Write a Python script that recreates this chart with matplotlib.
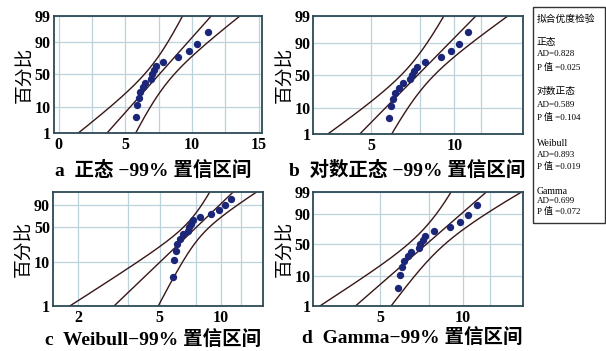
import numpy as np
import matplotlib
matplotlib.use('Agg')
import matplotlib.pyplot as plt
from matplotlib.ticker import FixedLocator, FixedFormatter, NullFormatter
from matplotlib.patches import Rectangle
from statistics import NormalDist

X = [5.8, 5.9, 6.0, 6.1, 6.3, 6.5, 6.9, 7.0, 7.15, 7.3, 7.85, 8.95, 9.75, 10.4, 11.2]
PCT = [4.5, 11.0, 17.5, 24.0, 30.5, 37.0, 43.5, 50.0, 56.5, 63.0, 69.5, 76.0, 82.5, 89.0, 95.5]

DIST_NAMES = ['正态', '对数正态', 'Weibull', 'Gamma']
AD = ['0.828', '0.589', '0.893', '0.699']
PVAL = ['0.025', '0.104', '0.019', '0.072']
CAPTIONS = ['a  正态 −99% 置信区间', 'b  对数正态 −99% 置信区间',
            'c  Weibull−99% 置信区间', 'd  Gamma−99% 置信区间']
Y_TICKS = [1, 10, 50, 90, 99]
Y_TICKS_C = [1, 10, 50, 90]

SERIF_CJK = ['Liberation Serif', 'Noto Sans CJK SC']
PT_COLOR = '#1c2679'
LN_COLOR = '#3a1616'
GRID_COLOR = '#bdd3dc'
SPINE_COLOR = '#2d4a56'

nd = NormalDist()
_ppf = np.vectorize(lambda p: nd.inv_cdf(p) if 0 < p < 1 else np.nan, otypes=[float])
_cdf = np.vectorize(nd.cdf, otypes=[float])

N = len(X)
Z99 = nd.inv_cdf(0.995)
xs = np.array(X)
lx = np.log(xs)
K = xs.mean() ** 2 / xs.var(ddof=1)   # gamma shape (moments)


def clip_p(p):
    return np.clip(np.asarray(p, float) / 100.0, 1e-9, 1 - 1e-9)


def norm_fwd(p):
    return _ppf(clip_p(p))


def norm_inv(y):
    return 100.0 * _cdf(np.asarray(y, float))


def weib_fwd(p):
    return np.log(-np.log(1 - clip_p(p)))


def weib_inv(y):
    return 100.0 * (1 - np.exp(-np.exp(np.asarray(y, float))))


C_WH = 1 - 1 / (9 * K)
A_WH = 1 / (3 * np.sqrt(K))


def gam_fwd(p):
    z = _ppf(clip_p(p))
    return np.log(K * np.clip(C_WH + A_WH * z, 1e-6, None) ** 3)


def gam_inv(y):
    t = (np.exp(np.asarray(y, float)) / K) ** (1 / 3)
    return 100.0 * _cdf((t - C_WH) / A_WH)


def weibull_mle():
    def g(beta):
        w = xs ** beta
        return (w * lx).sum() / w.sum() - 1 / beta - lx.mean()
    lo, hi = 0.5, 60.0
    for _ in range(80):
        mid = (lo + hi) / 2
        if g(mid) > 0:
            hi = mid
        else:
            lo = mid
    beta = (lo + hi) / 2
    eta = np.mean(xs ** beta) ** (1 / beta)
    return np.log(eta), 1 / beta


# location/scale on the transformed x axis
fits = [
    (xs.mean(), xs.std()),
    (lx.mean(), lx.std()),
    weibull_mle(),
    (np.log(xs.mean() / K), 1.0),
]

panels = [
    dict(fwd=norm_fwd, inv=norm_inv, logx=False, xlim=(-0.375, 15.25),
         xt=[0, 5, 10, 15], xm=[2.5, 7.5, 12.5], yt=Y_TICKS),
    dict(fwd=norm_fwd, inv=norm_inv, logx=True, xlim=(3.09, 17.75),
         xt=[5, 10], xm=[7.5, 12.5], yt=Y_TICKS),
    dict(fwd=weib_fwd, inv=weib_inv, logx=True, xlim=(1.5, 16.1),
         xt=[2, 5, 10], xm=[3.5, 7.5, 12.5], yt=Y_TICKS_C),
    dict(fwd=gam_fwd, inv=gam_inv, logx=True, xlim=(2.87, 16.5),
         xt=[5, 10], xm=[7.5, 12.5], yt=Y_TICKS),
]
rects = [
    [0.0883, 0.6211, 0.3440, 0.3333],
    [0.5170, 0.6180, 0.3465, 0.3362],
    [0.0870, 0.1290, 0.3475, 0.3248],
    [0.5170, 0.1290, 0.3465, 0.3248],
]
cap_pos = [(153, 170), (407, 170), (153, 340), (412, 338)]

fig = plt.figure(figsize=(6.06, 3.51), dpi=100)
pp = np.linspace(0.3, 99.8, 400)

for i, (cfg, r) in enumerate(zip(panels, rects)):
    ax = fig.add_axes(r)
    ax.set_yscale('function', functions=(cfg['fwd'], cfg['inv']))
    if cfg['logx']:
        ax.set_xscale('log')

    a, b = fits[i]
    qq = cfg['fwd'](pp)
    centre = a + b * qq
    zz = norm_fwd(pp)
    if i == 2:
        var = 1.1087 + 0.514 * qq + 0.6079 * qq ** 2
        se = b / np.sqrt(N) * np.sqrt(var)
    elif i == 3:
        se = 1 / np.sqrt(K) / np.sqrt(N) * np.sqrt(1 + zz ** 2 / 2)
    else:
        se = b / np.sqrt(N) * np.sqrt(1 + zz ** 2 / 2)
    back = np.exp if cfg['logx'] else (lambda v: v)
    for line in (centre - Z99 * se, centre, centre + Z99 * se):
        ax.plot(back(line), pp, color=LN_COLOR, lw=1.0, zorder=2)

    ax.scatter(X, PCT, s=28, color=PT_COLOR, zorder=3, linewidths=0)

    ax.set_xlim(*cfg['xlim'])
    ax.set_ylim(1, 99)
    ax.xaxis.set_major_locator(FixedLocator(cfg['xt']))
    ax.xaxis.set_major_formatter(FixedFormatter([str(v) for v in cfg['xt']]))
    ax.xaxis.set_minor_locator(FixedLocator(cfg['xm']))
    ax.xaxis.set_minor_formatter(NullFormatter())
    ax.yaxis.set_major_locator(FixedLocator(cfg['yt']))
    ax.yaxis.set_major_formatter(FixedFormatter([str(v) for v in cfg['yt']]))
    ax.yaxis.set_minor_locator(FixedLocator([]))
    ax.grid(True, which='both', color=GRID_COLOR, lw=0.9, zorder=0)
    ax.set_axisbelow(True)
    ax.tick_params(which='both', length=0, pad=2, labelsize=11.5)
    ax.tick_params(axis='x', pad=3)
    for lab in ax.get_xticklabels() + ax.get_yticklabels():
        lab.set_family('Liberation Serif')
        lab.set_weight('bold')
    for s in ax.spines.values():
        s.set_color(SPINE_COLOR)
        s.set_linewidth(1.3)
    ax.set_ylabel('百分比', family=SERIF_CJK, fontsize=13.5, labelpad=0)

    cx, cy = cap_pos[i]
    fig.text(cx / 606, 1 - cy / 351, CAPTIONS[i], family=SERIF_CJK,
             fontsize=14, weight='bold', ha='center', va='center')

# goodness-of-fit box
fig.patches.append(Rectangle((533.3 / 606, 1 - 223.3 / 351), 71.5 / 606, 216 / 351,
                             transform=fig.transFigure, fill=False,
                             edgecolor='#333333', lw=1.0))
tx = 536.7 / 606
fig.text(tx, 1 - 19 / 351, '拟合优度检验', family=SERIF_CJK, fontsize=7, va='center')
rows = [(42.3, 54, 67), (91.7, 105, 117.3), (143.3, 155, 166), (191, 201, 211.7)]
for name, ad, pv, (y0, y1, y2) in zip(DIST_NAMES, AD, PVAL, rows):
    fig.text(tx, 1 - y0 / 351, name, family=SERIF_CJK, fontsize=7, va='center')
    fig.text(tx, 1 - y1 / 351, 'AD=' + ad, family=SERIF_CJK, fontsize=6.5, va='center')
    fig.text(tx, 1 - y2 / 351, 'P 值 =' + pv, family=SERIF_CJK, fontsize=6.5, va='center')

fig.savefig('out.png', dpi=100)
